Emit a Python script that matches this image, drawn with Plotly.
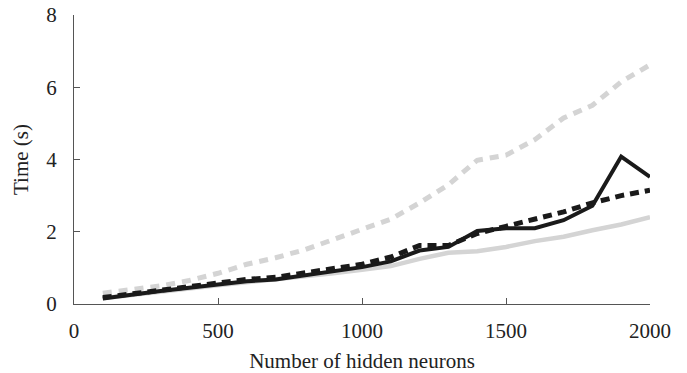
import plotly.graph_objects as go

neurons = [100, 200, 300, 400, 500, 600, 700, 800, 900, 1000,
           1100, 1200, 1300, 1400, 1500, 1600, 1700, 1800, 1900, 2000]

gray_dashed = [0.30, 0.40, 0.50, 0.65, 0.85, 1.10, 1.28, 1.50, 1.78, 2.05,
               2.35, 2.80, 3.30, 3.98, 4.12, 4.55, 5.15, 5.50, 6.15, 6.62]
gray_solid = [0.16, 0.26, 0.35, 0.43, 0.52, 0.60, 0.66, 0.75, 0.85, 0.95,
              1.05, 1.25, 1.42, 1.46, 1.58, 1.74, 1.86, 2.04, 2.20, 2.40]
black_dashed = [0.18, 0.28, 0.38, 0.47, 0.57, 0.68, 0.74, 0.86, 0.98, 1.10,
                1.30, 1.62, 1.62, 1.95, 2.15, 2.35, 2.55, 2.80, 3.00, 3.15]
black_solid = [0.15, 0.26, 0.36, 0.45, 0.54, 0.63, 0.68, 0.80, 0.92, 1.02,
               1.18, 1.48, 1.58, 2.02, 2.10, 2.10, 2.32, 2.72, 4.08, 3.52]

fig = go.Figure()
fig.add_trace(go.Scatter(x=neurons, y=gray_dashed, mode="lines",
                         line=dict(color="#d4d4d4", width=5, dash="9px,7px")))
fig.add_trace(go.Scatter(x=neurons, y=gray_solid, mode="lines",
                         line=dict(color="#d4d4d4", width=4.5)))
fig.add_trace(go.Scatter(x=neurons, y=black_dashed, mode="lines",
                         line=dict(color="#1a1a1a", width=5, dash="9px,6px")))
fig.add_trace(go.Scatter(x=neurons, y=black_solid, mode="lines",
                         line=dict(color="#1a1a1a", width=4)))

tickfont = dict(family="Liberation Serif", size=21, color="#222")
titlefont = dict(family="Liberation Serif", size=21, color="#222")
fig.update_layout(
    width=687, height=373,
    margin=dict(l=74, r=37, t=15, b=69, autoexpand=False),
    paper_bgcolor="white", plot_bgcolor="white",
    showlegend=False,
    font=titlefont,
    xaxis=dict(range=[0, 2000], tickvals=[0, 500, 1000, 1500, 2000],
               showgrid=False, zeroline=False, showline=True,
               linecolor="#555", linewidth=1.2, ticks="inside", ticklen=6,
               tickcolor="#555", tickfont=tickfont, ticklabelstandoff=8,
               automargin=False,
               title=dict(text="Number of hidden neurons", font=titlefont, standoff=11)),
    yaxis=dict(range=[0, 8], tickvals=[0, 2, 4, 6, 8],
               showgrid=False, zeroline=False, showline=True,
               linecolor="#555", linewidth=1.2, ticks="inside", ticklen=6,
               tickcolor="#555", tickfont=tickfont, ticklabelstandoff=12,
               automargin=False,
               title=dict(text="Time (s)", font=titlefont, standoff=11)),
)
fig.write_html("out.html")
